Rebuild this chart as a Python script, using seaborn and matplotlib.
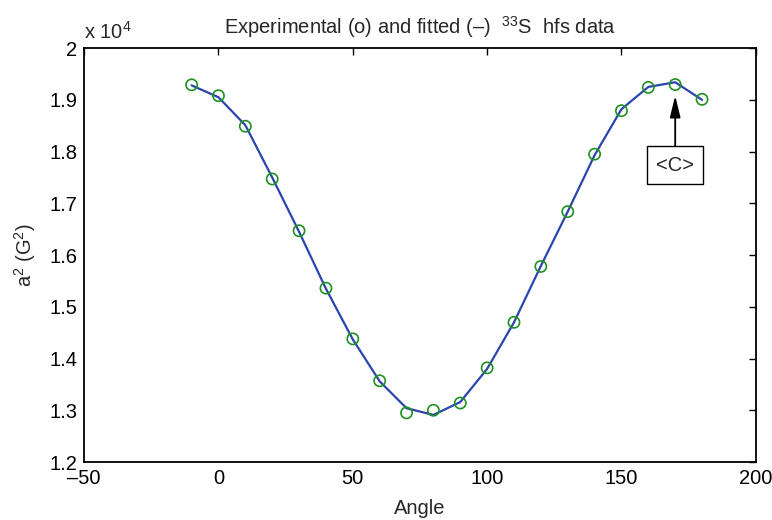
import numpy as np
import pandas as pd
import matplotlib
matplotlib.use("Agg")
import matplotlib.pyplot as plt
from matplotlib.ticker import FuncFormatter, FixedLocator
import seaborn as sns

# Data
angles = [-10, 0, 10, 20, 30, 40, 50, 60, 70, 80, 90, 100, 110, 120, 130, 140, 150, 160, 170, 180]
a2_exp = [19290, 19080, 18490, 17470, 16470, 15360, 14380, 13570, 12950, 13000,
          13140, 13820, 14700, 15780, 16840, 17950, 18790, 19240, 19295, 19010]
a2_fit = [19280, 19050, 18510, 17500, 16450, 15350, 14370, 13560, 13040, 12910,
          13160, 13800, 14700, 15790, 16840, 17930, 18820, 19250, 19340, 19000]
xticks = [-50, 0, 50, 100, 150, 200]
xticklabels = ["\u201350", "0", "50", "100", "150", "200"]
yticks = [12000, 13000, 14000, 15000, 16000, 17000, 18000, 19000, 20000]

df = pd.DataFrame({"Angle": angles, "exp": a2_exp, "fit": a2_fit})

sns.set_style("white")
plt.rcParams["font.family"] = ["Liberation Sans", "DejaVu Sans"]
plt.rcParams["mathtext.fontset"] = "custom"
plt.rcParams["mathtext.rm"] = "Liberation Sans"
plt.rcParams["mathtext.it"] = "Liberation Sans"

FS = 14.5
fig = plt.figure(figsize=(7.72, 5.2), dpi=100)
ax = fig.add_axes([0.109, 0.1115, 0.870, 0.796])

sns.lineplot(data=df, x="Angle", y="fit", ax=ax, color="#2a45ad", linewidth=1.6,
             sort=False)
sns.scatterplot(data=df, x="Angle", y="exp", ax=ax, marker="o", s=65,
                facecolors="none", edgecolor="#1f9122", linewidth=1.2, zorder=3)

ax.set_xlim(-50, 200)
ax.set_ylim(12000, 20000)
ax.xaxis.set_major_locator(FixedLocator(xticks))
ax.set_xticklabels(xticklabels)
ax.yaxis.set_major_locator(FixedLocator(yticks))
ax.yaxis.set_major_formatter(FuncFormatter(lambda v, p: f"{v/1e4:g}"))

ax.tick_params(axis="both", which="both", direction="in", length=5, width=1,
               top=True, right=True, labelsize=FS, colors="black", pad=5)
for s in ax.spines.values():
    s.set_color("black")
    s.set_linewidth(1.3)

ax.set_xlabel("Angle", fontsize=FS, labelpad=8)
ax.set_ylabel("a$^2$ (G$^2$)", fontsize=FS, labelpad=8)
ax.set_title("Experimental (o) and fitted (\u2013)  $^{33}$S  hfs data",
             fontsize=FS, pad=10)
ax.text(0.0, 1.012, "x 10$^4$", transform=ax.transAxes, fontsize=FS,
        ha="left", va="bottom")

ax.annotate("<C>", xy=(170, 19080), xytext=(170, 17740),
            ha="center", va="center", fontsize=FS,
            bbox=dict(boxstyle="square,pad=0.45", fc="white", ec="black", lw=1),
            arrowprops=dict(arrowstyle="-|>,head_length=0.9,head_width=0.22",
                            color="black", lw=1.3, shrinkA=0, shrinkB=0))

fig.savefig("out.png", dpi=100)
